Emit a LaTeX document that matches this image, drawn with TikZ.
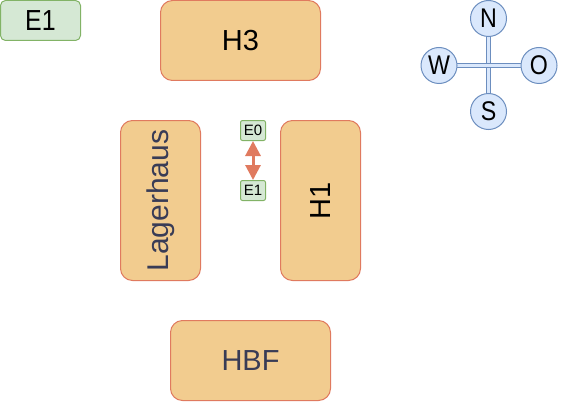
\documentclass[tikz,border=0pt]{standalone}
\usepackage{fontspec}
\setmainfont{Liberation Sans}
\newfontfamily\narrowfont{Liberation Sans}[FakeStretch=0.86]
\usetikzlibrary{arrows.meta}
\definecolor{ofill}{HTML}{F2CC8F}
\definecolor{ostroke}{HTML}{E07A5F}
\definecolor{gfill}{HTML}{D5E8D4}
\definecolor{gstroke}{HTML}{82B366}
\definecolor{bfill}{HTML}{DAE8FC}
\definecolor{bstroke}{HTML}{6C8EBF}
\definecolor{txt}{HTML}{393C56}
\begin{document}
\begin{tikzpicture}[x=1pt,y=-1pt,
  >={Triangle[width=15pt,length=15pt]},
  building/.style={draw=ostroke, fill=ofill, rounded corners=12pt, line width=1pt, inner sep=0pt, font=\fontsize{29}{34}\selectfont},
  wide/.style={minimum width=160pt, minimum height=80pt},
  tag/.style={draw=gstroke, fill=gfill, line width=1pt, inner sep=0pt},
  dir/.style={circle, draw=bstroke, fill=bfill, minimum size=36pt, inner sep=0pt, line width=1pt, font=\narrowfont\fontsize{27}{32}\selectfont},
  axis/.style={draw=bstroke, line width=1.2pt, double=bfill, double distance=3pt}
]
\useasboundingbox (0,0) rectangle (561,401);
% buildings
\node[building, wide] (H3) at (240.5,40.5) {H3};
\node[building, wide, rotate=90, text=txt, font=\fontsize{30}{34}\selectfont] (Lager) at (160.5,200.5) {Lagerhaus};
\node[building, wide, rotate=90] (H1) at (320.5,200.5) {H1};
\node[building, wide, text=txt] (HBF) at (250.5,360.5) {HBF};
% tags
\node[tag, rounded corners=5pt, minimum width=80pt, minimum height=40pt, font=\narrowfont\fontsize{29}{34}\selectfont] (E1big) at (40.5,20.5) {E1};
\node[tag, rounded corners=2pt, minimum width=25pt, minimum height=20pt, font=\fontsize{15}{17}\selectfont] (E0) at (253,130.5) {E0};
\node[tag, rounded corners=2pt, minimum width=25pt, minimum height=20pt, font=\fontsize{15}{17}\selectfont] (E1) at (253,190.5) {E1};
\draw[ostroke, line width=3pt, <->] (E0.south) -- (E1.north);
% compass
\coordinate (Nc) at (488.5,18.5);
\coordinate (Sc) at (488.5,111.5);
\coordinate (Wc) at (439,65.5);
\coordinate (Oc) at (539,65.5);
\draw[axis] (Nc) -- (Sc);
\draw[axis] (Wc) -- (Oc);
\node[dir] (N) at (Nc) {N};
\node[dir] (S) at (Sc) {S};
\node[dir] (W) at (Wc) {W};
\node[dir] (O) at (Oc) {O};
\end{tikzpicture}
\end{document}
